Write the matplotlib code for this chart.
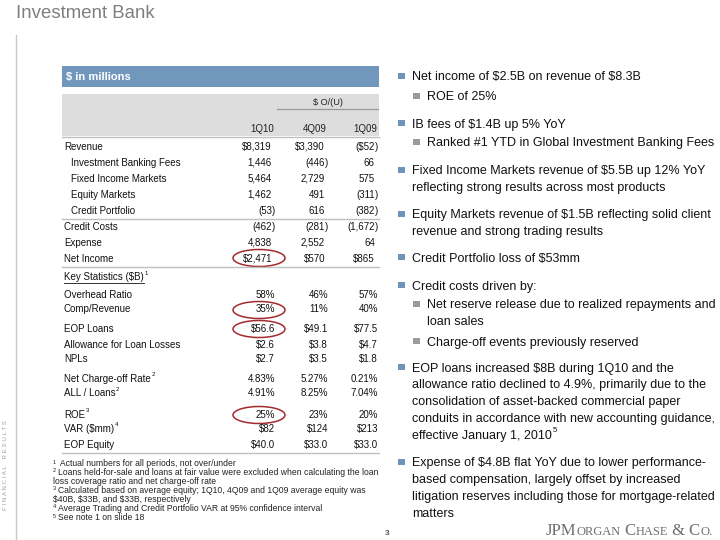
import math

import matplotlib

matplotlib.use("Agg")
import matplotlib.pyplot as plt
from matplotlib.backends.backend_agg import get_hinting_flag
from matplotlib.patches import Ellipse, Rectangle

plt.rcParams["font.family"] = ["Liberation Sans", "DejaVu Sans"]

# ---- table data ($ in millions) ----
COLUMNS = ["1Q10", "4Q09", "1Q09"]
LINE_ITEMS = ["Revenue", "Investment Banking Fees", "Fixed Income Markets", "Equity Markets",
              "Credit Portfolio", "Credit Costs", "Expense", "Net Income"]
INDENTED = ["Investment Banking Fees", "Fixed Income Markets", "Equity Markets", "Credit Portfolio"]
DOLLAR_ROWS = ["Revenue", "Net Income"]
VAL_1Q10 = [8319, 1446, 5464, 1462, -53, -462, 4838, 2471]
VAL_4Q09 = [3390, -446, 2729, 491, 616, -281, 2552, 570]
VAL_1Q09 = [-52, 66, 575, -311, -382, -1672, 64, 865]

KEY_STATS = ["Overhead Ratio", "Comp/Revenue", "EOP Loans", "Allowance for Loan Losses", "NPLs",
             "Net Charge-off Rate", "ALL / Loans", "ROE", "VAR ($mm)", "EOP Equity"]
KS_NOTE = ["", "", "", "", "", "2", "2", "3", "4", ""]
KS_FORMAT = ["pct0", "pct0", "usd1", "usd1", "usd1", "pct2", "pct2", "pct0", "usd0", "usd1"]
KS_1Q10 = [58, 35, 56.6, 2.6, 2.7, 4.83, 4.91, 25, 82, 40.0]
KS_4Q09 = [46, 11, 49.1, 3.8, 3.5, 5.27, 8.25, 23, 124, 33.0]
KS_1Q09 = [57, 40, 77.5, 4.7, 1.8, 0.21, 7.04, 20, 213, 33.0]

CIRCLED = ["Net Income", "Comp/Revenue", "EOP Loans", "ROE"]

FOOTNOTES = [
    ("1", " Actual numbers for all periods, not over/under"),
    ("2", "Loans held-for-sale and loans at fair value were excluded when calculating the loan"),
    ("", "loss coverage ratio and net charge-off rate"),
    ("3", "Calculated based on average equity; 1Q10, 4Q09 and 1Q09 average equity was"),
    ("", "$40B, $33B, and $33B, respectively"),
    ("4", "Average Trading and Credit Portfolio VAR at 95% confidence interval"),
    ("5", "See note 1 on slide 18"),
]

BULLETS = [
    (0, "Net income of $2.5B on revenue of $8.3B"),
    (1, "ROE of 25%"),
    (0, "IB fees of $1.4B up 5% YoY"),
    (1, "Ranked #1 YTD in Global Investment Banking Fees"),
    (0, "Fixed Income Markets revenue of $5.5B up 12% YoY\nreflecting strong results across most products"),
    (0, "Equity Markets revenue of $1.5B reflecting solid client\nrevenue and strong trading results"),
    (0, "Credit Portfolio loss of $53mm"),
    (0, "Credit costs driven by:"),
    (1, "Net reserve release due to realized repayments and\nloan sales"),
    (1, "Charge-off events previously reserved"),
    (0, "EOP loans increased $8B during 1Q10 and the\nallowance ratio declined to 4.9%, primarily due to the\n"
        "consolidation of asset-backed commercial paper\nconduits in accordance with new accounting guidance,\n"
        "effective January 1, 2010^5"),
    (0, "Expense of $4.8B flat YoY due to lower performance-\nbased compensation, largely offset by increased\n"
        "litigation reserves including those for mortgage-related\nmatters"),
]

# ---- layout (pixels, y down) ----
MAIN_Y = [146, 163, 179, 194, 210, 227, 243, 258]
KS_Y = [294, 309, 328, 345, 359, 378, 393, 414, 428, 444]
BULLET_Y = [76, 96, 123, 142, 170, 214, 257, 285, 304, 341, 367, 462]
COL_X = [272, 325, 375]
TBL_L, TBL_R = 62, 379
BLUE = "#7197bc"
GREY_TXT = "#7f7f7f"
LINE = "#c0c0c0"
INK = "#111111"

fig = plt.figure(figsize=(7.2, 5.4), dpi=100)
ax = fig.add_axes([0, 0, 1, 1])
ax.set_xlim(0, 720)
ax.set_ylim(540, 0)
ax.axis("off")
renderer = fig.canvas.get_renderer()


def snap(t, base):
    # Agg places each string's bitmap by its own rounded ascent/descent, which makes
    # small digits hop by a pixel; shift the anchor so every baseline lands on `base`.
    font = renderer._prepare_font(t.get_fontproperties())
    font.set_text(t.get_text(), 0, flags=get_hinting_flag())
    h = font.get_width_height()[1] / 64
    d = font.get_descent() / 64
    t.set_y(base + math.floor(h) - math.floor(h - d) - d)
    return t


def put(x, y, s, size, **kw):
    # y is the visual centre of capital letters
    base = round(y + 0.36 * size * 100 / 72)
    t = ax.text(x, base, s, fontsize=size, va="baseline", parse_math=False, **kw)
    return snap(t, base)


def right_edge(t):
    return t.get_window_extent(renderer).x1


def sup(x, y, s, size, **kw):
    # small raised digit after a label
    return put(x + 0.5, y - size * 0.55, s, size * 0.62, **kw)


def fmt_amount(v, dollar):
    s = f"{abs(v):,}"
    if dollar:
        s = "$" + s
    return ("(" + s, ")") if v < 0 else (s, "")


def fmt_stat(v, kind):
    if kind == "pct0":
        return f"{v:.0f}%"
    if kind == "pct2":
        return f"{v:.2f}%"
    if kind == "usd0":
        return f"${v:.0f}"
    return f"${v:.1f}"


# page furniture
put(16, 11, "Investment Bank", 13.4, color=GREY_TXT)
ax.plot([16, 16], [35, 540], color="#c8c8c8", lw=1)
ax.text(6, 465, "F I N A N C I A L    R E S U L T S", fontsize=4.4, color="#a0a0a0",
        rotation=90, ha="center", va="center", parse_math=False)

# table header
ax.add_patch(Rectangle((TBL_L, 66), TBL_R - TBL_L, 21, color=BLUE, lw=0))
put(66, 76.5, "$ in millions", 8, color="white", fontweight="bold")
ax.add_patch(Rectangle((TBL_L, 94), TBL_R - TBL_L, 42, color="#dddddd", lw=0))
put(328, 102, "$ O/(U)", 6.6, ha="center", color="#222222")
ax.plot([277, 378], [109, 109], color="#999999", lw=0.9)
for cx, col in zip(COL_X, COLUMNS):
    put(cx + 2, 128, col, 7, ha="right", color="#222222")
ax.plot([TBL_L, TBL_R], [137, 137], color=LINE, lw=1)

# income statement rows
cols = [VAL_1Q10, VAL_4Q09, VAL_1Q09]
for i, item in enumerate(LINE_ITEMS):
    y = MAIN_Y[i]
    put(71 if item in INDENTED else 64, y, item, 7, color=INK)
    for cx, vals in zip(COL_X, cols):
        body, tail = fmt_amount(vals[i], item in DOLLAR_ROWS)
        put(cx, y, body, 7, ha="right", color=INK)
        if tail:
            put(cx, y, tail, 7, ha="left", color=INK)
    if item in CIRCLED:
        ax.add_patch(Ellipse((COL_X[0] - 13, y), 52, 17, fill=False, ec="#a32a2e", lw=1.1))
ax.plot([TBL_L, TBL_R], [219, 219], color=LINE, lw=1)
ax.plot([TBL_L, TBL_R], [267, 267], color=LINE, lw=1)

# key statistics
hdr = put(64, 277, "Key Statistics ($B)", 7, color=INK)
x1 = right_edge(hdr)
ax.plot([64, x1], [282.5, 282.5], color=INK, lw=0.6)
sup(x1, 277, "1", 7, color=INK)

kcols = [KS_1Q10, KS_4Q09, KS_1Q09]
for i, item in enumerate(KEY_STATS):
    y = KS_Y[i]
    lab = put(64, y, item, 7, color=INK)
    if KS_NOTE[i]:
        sup(right_edge(lab), y, KS_NOTE[i], 7, color=INK)
    for cx, vals in zip(COL_X, kcols):
        put(cx + 3, y, fmt_stat(vals[i], KS_FORMAT[i]), 7, ha="right", color=INK)
    if item in CIRCLED:
        ax.add_patch(Ellipse((COL_X[0] - 13, y + 1), 52, 17, fill=False, ec="#a32a2e", lw=1.1))
ax.plot([TBL_L, TBL_R], [453, 453], color=LINE, lw=1)

# footnotes
for i, (mark, note) in enumerate(FOOTNOTES):
    y = 463 + i * 9.0
    x = 53
    if mark:
        m = put(53, y - 1.5, mark, 4.0, color="#222222")
        x = right_edge(m) + 1.5
    put(x, y, note, 6.2, color="#222222")

# bullets on the right
for (level, text), y0 in zip(BULLETS, BULLET_Y):
    bx = 398 if level == 0 else 413
    tx = 412 if level == 0 else 427
    ax.add_patch(Rectangle((bx, y0 - 3.3), 6.5, 6.5,
                           color="#6f93b9" if level == 0 else "#9b9b9b", lw=0))
    for j, line in enumerate(text.split("\n")):
        line, _, note = line.partition("^")
        t = put(tx, y0 + j * 16.8, line, 9, color=INK)
        if note:
            sup(right_edge(t), y0 + j * 16.8, note, 9, color=INK)

# page number and logo
put(385, 532, "3", 6, color="#555555", fontweight="bold")
x = 546
for piece, size in [("JPM", 12.0), ("ORGAN", 9.0), (" C", 12.0), ("HASE", 9.0),
                    (" & C", 12.0), ("O.", 9.0)]:
    t = ax.text(x, 535, piece, fontsize=size, family="Liberation Serif", color="#6e6e6e",
                va="baseline", parse_math=False)
    snap(t, 535)
    x = right_edge(t)

fig.savefig("out.png", dpi=100, facecolor="white")
